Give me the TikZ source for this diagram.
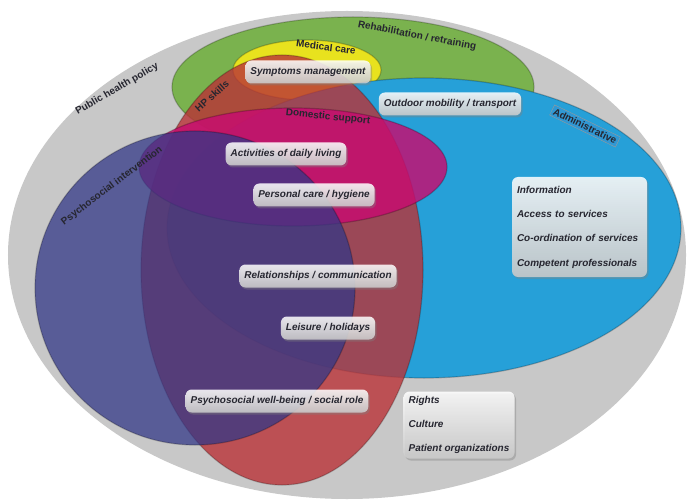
\documentclass[tikz,border=0pt]{standalone}
\usepackage{fontspec}
\setmainfont{Liberation Sans}
\usetikzlibrary{shadows}
\definecolor{greyC}{RGB}{200,200,200}
\definecolor{greenC}{RGB}{122,178,78}
\definecolor{yellowC}{RGB}{232,226,30}
\definecolor{blueC}{RGB}{38,160,216}
\definecolor{redC}{RGB}{185,50,55}
\definecolor{magC}{RGB}{200,12,112}
\definecolor{purC}{RGB}{50,55,135}
\definecolor{txt}{RGB}{38,38,48}
\definecolor{adminC}{RGB}{48,152,212}
\begin{document}
\begin{tikzpicture}[x=1bp,y=-1bp,
  rim/.style={draw=black, draw opacity=0.22, line width=1.2bp},
  item/.style={rounded corners=6bp, top color=white, bottom color=white!80!black,
    fill opacity=0.86, text opacity=1, text=txt,
    font=\fontsize{10}{12}\selectfont\bfseries\itshape,
    inner xsep=5bp, inner ysep=0bp, minimum height=23bp,
    drop shadow={opacity=0.4, shadow xshift=1.5bp, shadow yshift=-2bp}},
  listbox/.style={item, align=left, inner xsep=5bp,
    font=\fontsize{10}{24.4}\selectfont\bfseries\itshape},
  lab/.style={text=txt, font=\fontsize{10}{12}\selectfont\bfseries, inner sep=1bp}]
\useasboundingbox (0,0) rectangle (689,501);
% circles
\fill[greyC] (347,255) ellipse [x radius=339bp, y radius=244bp];
\fill[greenC, rim] (353,87) ellipse [x radius=181bp, y radius=70bp];
\fill[yellowC, rim] (307,70) ellipse [x radius=74bp, y radius=30bp];
\fill[blueC, rim] (424,228) ellipse [x radius=257bp, y radius=150bp];
\fill[redC, fill opacity=0.8, rim] (282,270) ellipse [x radius=141bp, y radius=215bp];
\fill[magC, fill opacity=0.82, rim] (293,167) ellipse [x radius=154bp, y radius=59bp];
\fill[purC, fill opacity=0.74, rim] (195,288) ellipse [x radius=160bp, y radius=157bp];
% circle labels
\node[lab, rotate=30] (lphp) at (117,89) {Public health policy};
\node[lab, rotate=-11] (lreh) at (417,36) {Rehabilitation / retraining};
\node[lab, rotate=-7] (lmed) at (326,47) {Medical care};
\node[lab, rotate=42] (lhp) at (212,96) {HP skills};
\node[lab, rotate=-6] (ldom) at (328,117) {Domestic support};
\node[lab, rotate=-26, fill=adminC, draw=black!40, line width=0.4bp, inner sep=2bp] (ladm) at (585,126) {Administrative};
\node[lab, rotate=37] (lpsy) at (112,186) {Psychosocial intervention};
% items
\node[item] (sym) at (308,72) {Symptoms management};
\node[item] (out) at (450,104) {Outdoor mobility / transport};
\node[item] (adl) at (286,154) {Activities of daily living};
\node[item] (pch) at (314,195) {Personal care / hygiene};
\node[item] (rel) at (318,276) {Relationships / communication};
\node[item] (lei) at (328,328) {Leisure / holidays};
\node[item] (psw) at (277,401) {Psychosocial well-being / social role};
\node[listbox, minimum width=135bp, minimum height=100bp, text width=125bp] (adm) at (579.5,227)
  {Information\\Access to services\\Co-ordination of services\\Competent professionals};
\node[listbox, minimum width=111bp, minimum height=67bp] (rig) at (459,425)
  {Rights\\Culture\\Patient organizations};
\end{tikzpicture}
\end{document}
